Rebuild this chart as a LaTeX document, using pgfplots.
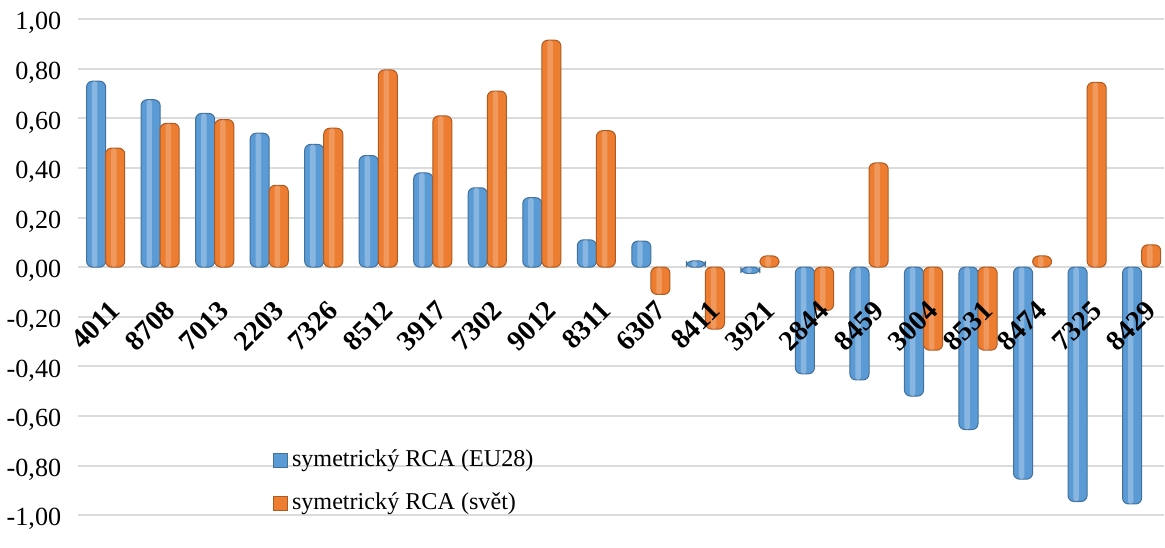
\documentclass[border=0pt]{standalone}
\usepackage{pgfplots}
\usepackage{pgfplotstable}
\pgfplotsset{compat=1.18}
\usepackage{fontspec}
\setmainfont{Liberation Serif}

\definecolor{rcaBlue}{HTML}{5B9BD5}
\definecolor{rcaBlueEdge}{HTML}{41719C}
\definecolor{rcaOrange}{HTML}{ED7D31}
\definecolor{rcaOrangeEdge}{HTML}{AE5A21}

% code, RCA vs EU28, RCA vs world
\pgfplotstableread{
code eu world
4011 0.750 0.480
8708 0.675 0.580
7013 0.620 0.595
2203 0.540 0.330
7326 0.495 0.560
8512 0.450 0.795
3917 0.380 0.610
7302 0.320 0.710
9012 0.280 0.915
8311 0.110 0.550
6307 0.105 -0.110
8411 0.025 -0.250
3921 -0.025 0.045
2844 -0.430 -0.175
8459 -0.455 0.420
3004 -0.520 -0.335
8531 -0.655 -0.335
8474 -0.855 0.045
7325 -0.945 0.745
8429 -0.955 0.090
}\rcadata

\begin{document}
\begin{tikzpicture}
\begin{axis}[
  scale only axis,
  width=539.5pt, height=246.5pt,
  xmin=-0.5, xmax=19.41,
  ymin=-1, ymax=1,
  axis lines=left,
  axis line style={draw=none},
  major tick length=0pt,
  ytick={-1,-0.8,-0.6,-0.4,-0.2,0,0.2,0.4,0.6,0.8,1},
  yticklabel style={
    /pgf/number format/fixed, /pgf/number format/fixed zerofill,
    /pgf/number format/precision=2, /pgf/number format/use comma,
    /pgf/number format/assume math mode=true,
    font=\fontsize{13}{15}\selectfont, xshift=-5pt, yshift=-2pt},
  xtick=\empty,
  ymajorgrids,
  grid style={line width=1pt, color=black!14},
  legend style={draw=none, fill=none, at={(0.179,0.14)}, anchor=north west,
    font=\fontsize{12}{14}\selectfont, row sep=7.5pt, inner sep=0pt},
  legend cell align=left,
  legend image code/.code={\draw[#1, rounded corners=0pt, line width=0.4pt] (0pt,-3.5pt) rectangle (7pt,3.5pt);},
]
\addplot[ybar, bar width=0.35, bar shift=-0.175, draw=rcaBlueEdge, fill=rcaBlue, line width=0.5pt, rounded corners=3pt]
  table[x expr=\coordindex, y=eu] {\rcadata};
\addplot[ybar, bar width=0.35, bar shift=0.175, draw=rcaOrangeEdge, fill=rcaOrange, line width=0.5pt, rounded corners=3pt]
  table[x expr=\coordindex, y=world] {\rcadata};
\legend{symetrický RCA (EU28), symetrický RCA (svět)}
% highlight stripes for the rounded look
\addplot[forget plot, ybar, bar shift=-0.2, bar width=0.1, draw=none, fill=white, fill opacity=0.28, rounded corners=1.4pt]
  table[x expr=\coordindex, y=eu] {\rcadata};
\addplot[forget plot, ybar, bar shift=0.15, bar width=0.1, draw=none, fill=white, fill opacity=0.22, rounded corners=1.4pt]
  table[x expr=\coordindex, y=world] {\rcadata};
% category codes along the zero line, above the bars
\addplot[forget plot, draw=none, mark=none,
  nodes near coords, point meta=explicit symbolic,
  every node near coord/.append style={rotate=45, anchor=north east, inner sep=0pt,
    font=\fontsize{14}{16}\selectfont\bfseries, yshift=-12pt, xshift=-10pt}]
  table[x expr=\coordindex, y expr=0, meta=code] {\rcadata};
\end{axis}
\path (current axis.north west) ++(0,9.5pt);
\path (current axis.south west) ++(0,-16pt);
\end{tikzpicture}
\end{document}
